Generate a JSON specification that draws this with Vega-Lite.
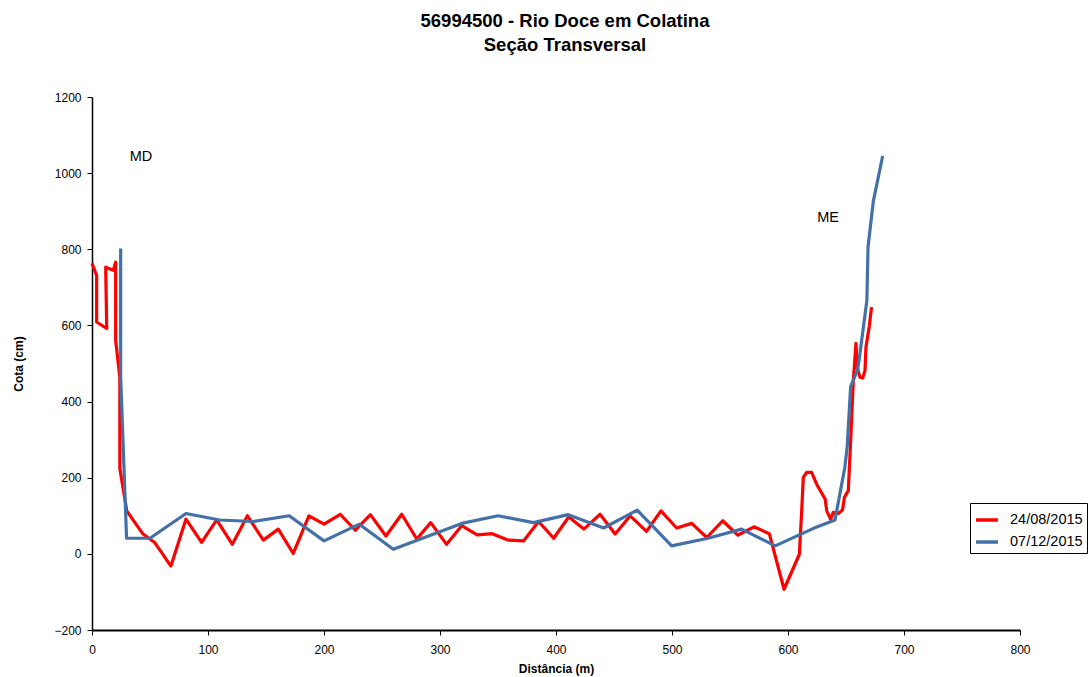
{
  "$schema": "https://vega.github.io/schema/vega-lite/v6.json",
  "width": 928,
  "height": 533,
  "autosize": "none",
  "padding": {"left": 92, "top": 97, "right": 71, "bottom": 47},
  "background": "white",
  "config": {
    "view": {"stroke": null},
    "font": "Liberation Sans"
  },
  "title": {
    "text": ["56994500 - Rio Doce em Colatina", "Seção Transversal"],
    "fontSize": 18.5,
    "fontWeight": "bold",
    "font": "Liberation Sans",
    "color": "black",
    "anchor": "middle",
    "frame": "group",
    "dx": 9,
    "offset": 37,
    "lineHeight": 24
  },
  "data": {
    "values": [
      {"serie": "24/08/2015", "i": 1, "x": 0, "y": 763},
      {"serie": "24/08/2015", "i": 2, "x": 4, "y": 731},
      {"serie": "24/08/2015", "i": 3, "x": 4, "y": 609},
      {"serie": "24/08/2015", "i": 4, "x": 12.7, "y": 592},
      {"serie": "24/08/2015", "i": 5, "x": 11.8, "y": 753},
      {"serie": "24/08/2015", "i": 6, "x": 18.4, "y": 745},
      {"serie": "24/08/2015", "i": 7, "x": 20.4, "y": 766},
      {"serie": "24/08/2015", "i": 8, "x": 20.4, "y": 560},
      {"serie": "24/08/2015", "i": 9, "x": 24, "y": 464},
      {"serie": "24/08/2015", "i": 10, "x": 24, "y": 224},
      {"serie": "24/08/2015", "i": 11, "x": 30, "y": 113},
      {"serie": "24/08/2015", "i": 12, "x": 37, "y": 82},
      {"serie": "24/08/2015", "i": 13, "x": 44, "y": 52},
      {"serie": "24/08/2015", "i": 14, "x": 54, "y": 30},
      {"serie": "24/08/2015", "i": 15, "x": 68, "y": -32},
      {"serie": "24/08/2015", "i": 16, "x": 81, "y": 91},
      {"serie": "24/08/2015", "i": 17, "x": 94.5, "y": 30},
      {"serie": "24/08/2015", "i": 18, "x": 107.5, "y": 89},
      {"serie": "24/08/2015", "i": 19, "x": 121, "y": 25},
      {"serie": "24/08/2015", "i": 20, "x": 134, "y": 100},
      {"serie": "24/08/2015", "i": 21, "x": 147.7, "y": 36},
      {"serie": "24/08/2015", "i": 22, "x": 160.6, "y": 65},
      {"serie": "24/08/2015", "i": 23, "x": 173.5, "y": 1},
      {"serie": "24/08/2015", "i": 24, "x": 187, "y": 100},
      {"serie": "24/08/2015", "i": 25, "x": 200, "y": 78},
      {"serie": "24/08/2015", "i": 26, "x": 214, "y": 104},
      {"serie": "24/08/2015", "i": 27, "x": 227, "y": 62},
      {"serie": "24/08/2015", "i": 28, "x": 240, "y": 103},
      {"serie": "24/08/2015", "i": 29, "x": 253.4, "y": 47},
      {"serie": "24/08/2015", "i": 30, "x": 267, "y": 104},
      {"serie": "24/08/2015", "i": 31, "x": 280, "y": 39},
      {"serie": "24/08/2015", "i": 32, "x": 292, "y": 82},
      {"serie": "24/08/2015", "i": 33, "x": 305.7, "y": 25},
      {"serie": "24/08/2015", "i": 34, "x": 318.7, "y": 74},
      {"serie": "24/08/2015", "i": 35, "x": 332, "y": 50},
      {"serie": "24/08/2015", "i": 36, "x": 345, "y": 53},
      {"serie": "24/08/2015", "i": 37, "x": 359, "y": 36},
      {"serie": "24/08/2015", "i": 38, "x": 372, "y": 34},
      {"serie": "24/08/2015", "i": 39, "x": 385, "y": 85},
      {"serie": "24/08/2015", "i": 40, "x": 398, "y": 41},
      {"serie": "24/08/2015", "i": 41, "x": 411, "y": 97},
      {"serie": "24/08/2015", "i": 42, "x": 424, "y": 65},
      {"serie": "24/08/2015", "i": 43, "x": 438, "y": 104},
      {"serie": "24/08/2015", "i": 44, "x": 451, "y": 52},
      {"serie": "24/08/2015", "i": 45, "x": 464, "y": 100},
      {"serie": "24/08/2015", "i": 46, "x": 478, "y": 59},
      {"serie": "24/08/2015", "i": 47, "x": 490.5, "y": 113},
      {"serie": "24/08/2015", "i": 48, "x": 504, "y": 68},
      {"serie": "24/08/2015", "i": 49, "x": 517, "y": 80},
      {"serie": "24/08/2015", "i": 50, "x": 530, "y": 43},
      {"serie": "24/08/2015", "i": 51, "x": 543.7, "y": 87},
      {"serie": "24/08/2015", "i": 52, "x": 556.6, "y": 49},
      {"serie": "24/08/2015", "i": 53, "x": 570.7, "y": 71},
      {"serie": "24/08/2015", "i": 54, "x": 583.9, "y": 53},
      {"serie": "24/08/2015", "i": 55, "x": 596.6, "y": -93},
      {"serie": "24/08/2015", "i": 56, "x": 609.8, "y": -1},
      {"serie": "24/08/2015", "i": 57, "x": 611.8, "y": 113},
      {"serie": "24/08/2015", "i": 58, "x": 613.2, "y": 201},
      {"serie": "24/08/2015", "i": 59, "x": 616, "y": 214},
      {"serie": "24/08/2015", "i": 60, "x": 620.4, "y": 214},
      {"serie": "24/08/2015", "i": 61, "x": 624.7, "y": 183},
      {"serie": "24/08/2015", "i": 62, "x": 632, "y": 144},
      {"serie": "24/08/2015", "i": 63, "x": 633.4, "y": 113},
      {"serie": "24/08/2015", "i": 64, "x": 636.8, "y": 91},
      {"serie": "24/08/2015", "i": 65, "x": 639, "y": 109},
      {"serie": "24/08/2015", "i": 66, "x": 643.4, "y": 106},
      {"serie": "24/08/2015", "i": 67, "x": 647, "y": 115},
      {"serie": "24/08/2015", "i": 68, "x": 648.6, "y": 148},
      {"serie": "24/08/2015", "i": 69, "x": 652, "y": 166},
      {"serie": "24/08/2015", "i": 70, "x": 654, "y": 297},
      {"serie": "24/08/2015", "i": 71, "x": 656.3, "y": 455},
      {"serie": "24/08/2015", "i": 72, "x": 658.6, "y": 553},
      {"serie": "24/08/2015", "i": 73, "x": 659.7, "y": 490},
      {"serie": "24/08/2015", "i": 74, "x": 662, "y": 464},
      {"serie": "24/08/2015", "i": 75, "x": 664.4, "y": 462},
      {"serie": "24/08/2015", "i": 76, "x": 666.4, "y": 482},
      {"serie": "24/08/2015", "i": 77, "x": 667.2, "y": 543},
      {"serie": "24/08/2015", "i": 78, "x": 670, "y": 596},
      {"serie": "24/08/2015", "i": 79, "x": 672, "y": 648},
      {"serie": "07/12/2015", "i": 1, "x": 24.7, "y": 802},
      {"serie": "07/12/2015", "i": 2, "x": 24.7, "y": 464},
      {"serie": "07/12/2015", "i": 3, "x": 29.8, "y": 41},
      {"serie": "07/12/2015", "i": 4, "x": 50, "y": 41},
      {"serie": "07/12/2015", "i": 5, "x": 81, "y": 106},
      {"serie": "07/12/2015", "i": 6, "x": 110, "y": 89},
      {"serie": "07/12/2015", "i": 7, "x": 139, "y": 85},
      {"serie": "07/12/2015", "i": 8, "x": 170, "y": 100},
      {"serie": "07/12/2015", "i": 9, "x": 200, "y": 34},
      {"serie": "07/12/2015", "i": 10, "x": 230.5, "y": 78},
      {"serie": "07/12/2015", "i": 11, "x": 259.7, "y": 12},
      {"serie": "07/12/2015", "i": 12, "x": 318.7, "y": 80},
      {"serie": "07/12/2015", "i": 13, "x": 350, "y": 100},
      {"serie": "07/12/2015", "i": 14, "x": 380.5, "y": 82},
      {"serie": "07/12/2015", "i": 15, "x": 410.6, "y": 103},
      {"serie": "07/12/2015", "i": 16, "x": 441, "y": 68},
      {"serie": "07/12/2015", "i": 17, "x": 470, "y": 115},
      {"serie": "07/12/2015", "i": 18, "x": 499.7, "y": 21},
      {"serie": "07/12/2015", "i": 19, "x": 531, "y": 41},
      {"serie": "07/12/2015", "i": 20, "x": 560, "y": 65},
      {"serie": "07/12/2015", "i": 21, "x": 589, "y": 21},
      {"serie": "07/12/2015", "i": 22, "x": 622, "y": 67},
      {"serie": "07/12/2015", "i": 23, "x": 640.5, "y": 89},
      {"serie": "07/12/2015", "i": 24, "x": 649, "y": 227},
      {"serie": "07/12/2015", "i": 25, "x": 651, "y": 280},
      {"serie": "07/12/2015", "i": 26, "x": 654, "y": 439},
      {"serie": "07/12/2015", "i": 27, "x": 660, "y": 483},
      {"serie": "07/12/2015", "i": 28, "x": 662, "y": 525},
      {"serie": "07/12/2015", "i": 29, "x": 668, "y": 666},
      {"serie": "07/12/2015", "i": 30, "x": 669, "y": 806},
      {"serie": "07/12/2015", "i": 31, "x": 673.5, "y": 925},
      {"serie": "07/12/2015", "i": 32, "x": 681.6, "y": 1045}
    ]
  },
  "encoding": {
    "x": {
      "field": "x", "type": "quantitative",
      "scale": {"domain": [0, 800], "nice": false, "zero": false},
      "axis": {
        "title": "Distância (m)", "titleFontSize": 12, "titleFontWeight": "bold", "titleColor": "black",
        "titleFont": "Liberation Sans", "titlePadding": 8,
        "values": [0, 100, 200, 300, 400, 500, 600, 700, 800], "format": "d",
        "grid": false, "domainColor": "black", "domainWidth": 2,
        "tickColor": "black", "tickSize": 5, "tickWidth": 1,
        "labelFontSize": 12, "labelColor": "black", "labelFont": "Liberation Sans", "labelPadding": 9,
        "labelFlush": false
      }
    },
    "y": {
      "field": "y", "type": "quantitative",
      "scale": {"domain": [-200, 1200], "nice": false, "zero": false},
      "axis": {
        "title": "Cota (cm)", "titleFontSize": 12, "titleFontWeight": "bold", "titleColor": "black",
        "titleFont": "Liberation Sans", "titlePadding": 28,
        "values": [-200, 0, 200, 400, 600, 800, 1000, 1200], "format": "d",
        "grid": false, "domainColor": "black", "domainWidth": 1.5,
        "tickColor": "black", "tickSize": 5, "tickWidth": 1,
        "labelFontSize": 12, "labelColor": "black", "labelFont": "Liberation Sans", "labelPadding": 6
      }
    }
  },
  "layer": [
    {
      "transform": [{"filter": "datum.serie === '24/08/2015'"}],
      "mark": {"type": "line", "strokeWidth": 3.2, "strokeJoin": "round"},
      "encoding": {
        "order": {"field": "i", "type": "quantitative"},
        "color": {
          "field": "serie", "type": "nominal",
          "scale": {"domain": ["24/08/2015", "07/12/2015"], "range": ["#FF0000", "#4470A8"]},
          "legend": {
            "title": null, "orient": "none", "legendX": 878, "legendY": 406,
            "strokeColor": "black", "fillColor": "white",
            "padding": 4, "rowPadding": 2,
            "symbolType": "stroke", "symbolStrokeWidth": 3.5, "symbolSize": 484,
            "labelFontSize": 14.5, "labelColor": "black", "labelFont": "Liberation Sans", "labelLimit": 200,
            "labelOffset": 10
          }
        }
      }
    },
    {
      "transform": [{"filter": "datum.serie === '07/12/2015'"}],
      "mark": {"type": "line", "strokeWidth": 3.2, "strokeJoin": "round"},
      "encoding": {
        "order": {"field": "i", "type": "quantitative"},
        "color": {"field": "serie", "type": "nominal"}
      }
    },
    {
      "data": {"values": [{"label": "MD", "x": 42.2, "y": 1042}, {"label": "ME", "x": 634.5, "y": 882}]},
      "mark": {"type": "text", "fontSize": 14.5, "font": "Liberation Sans", "color": "black", "align": "center", "baseline": "middle"},
      "encoding": {"text": {"field": "label"}}
    }
  ]
}
